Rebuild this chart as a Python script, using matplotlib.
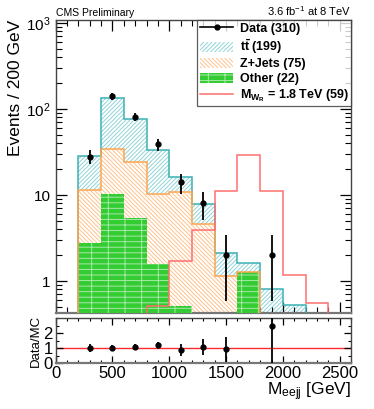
import numpy as np
import matplotlib
matplotlib.use("Agg")
from matplotlib import pyplot as plt
from matplotlib.lines import Line2D
import matplotlib.patches as mpatches
from matplotlib.ticker import FixedLocator, MultipleLocator, FuncFormatter, LogLocator, NullFormatter

plt.rcParams['font.family'] = ['Liberation Sans', 'DejaVu Sans']
plt.rcParams['mathtext.fontset'] = 'custom'
plt.rcParams['mathtext.rm'] = 'Liberation Sans'
plt.rcParams['mathtext.it'] = 'Liberation Sans:italic'
plt.rcParams['mathtext.bf'] = 'Liberation Sans:bold'
plt.rcParams['hatch.linewidth'] = 0.7

# bins of M_eejj (GeV), 200 GeV wide
edges = np.arange(200, 2600, 200)

# background yields per bin
other = [2.8, 10.2, 5.4, 1.6, 0.52, 0, 0, 1.28, 0, 0, 0]
zjets = [8.7, 24.3, 18.6, 8.6, 10.3, 4.6, 1.15, 0, 0, 0, 0]
ttbar = [17.0, 100.0, 52.0, 23.3, 5.5, 3.2, 0.95, 0.33, 0.8, 0.53, 0]
signal = [0, 0, 0, 0.52, 1.69, 3.9, 11.1, 28.8, 11.2, 1.17, 0.56]
data = [28, 140, 81, 39, 14, 8, 2, 0, 2, 0, 0]

# data/MC ratio points
ratio_x = [300, 500, 700, 900, 1100, 1300, 1500, 1900]
ratio = [1.0, 1.04, 1.08, 1.18, 0.87, 1.08, 0.93, 2.49]
ratio_err = [0.28, 0.14, 0.17, 0.22, 0.4, 0.55, 0.85, 2.6]

def pos(v):
    v = np.asarray(v, dtype=float)
    return np.where(v > 0, v, 1e-3)

s1 = np.array(other)
s2 = s1 + np.array(zjets)
s3 = s2 + np.array(ttbar)

fig = plt.figure(figsize=(3.74, 4.09), dpi=100)
ax = fig.add_axes([0.1487, 0.2335, 0.79, 0.7175])
rx = fig.add_axes([0.1487, 0.1125, 0.79, 0.1088])

teal = '#3cb0b4'
teal_h = '#8fd3d8'
orng = '#ffa54f'
orng_h = '#ffc28c'
green = '#33cc33'
sigc = '#ff6f6f'
h_tt = '////////'
h_zj = '\\' * 8
h_ot = '---|'

ax.stairs(pos(s3), edges, baseline=1e-3, fill=True, facecolor='white',
          edgecolor=teal_h, hatch=h_tt, linewidth=0, zorder=1)
ax.stairs(pos(s2), edges, baseline=1e-3, fill=True, facecolor='white',
          edgecolor=orng_h, hatch=h_zj, linewidth=0, zorder=2)
ax.stairs(pos(s1), edges, baseline=1e-3, fill=True, facecolor=green,
          edgecolor='#a8e8a8', hatch=h_ot, linewidth=0, zorder=3)
ax.stairs(pos(s3), edges, baseline=1e-3, color=teal, lw=1.1, zorder=4)
ax.stairs(pos(s2), edges, baseline=1e-3, color=orng, lw=1.1, zorder=5)
ax.stairs(pos(signal), edges, baseline=1e-3, color=sigc, lw=1.1, zorder=6)

centers = (edges[:-1] + edges[1:]) / 2
d = np.array(data, dtype=float)
m = d > 0
ax.errorbar(centers[m], d[m], yerr=np.sqrt(d[m]), fmt='o', color='k',
            ms=3.5, lw=1.3, capsize=0, zorder=10)

ax.set_yscale('log')
ax.set_ylim(0.42, 1080)
ax.set_xlim(0, 2600)
ax.yaxis.set_major_locator(FixedLocator([1, 10, 100, 1000]))
ax.yaxis.set_minor_locator(LogLocator(base=10, subs=np.arange(2, 10)))
ax.yaxis.set_minor_formatter(NullFormatter())
labs = {1: '1', 10: '10', 100: '$10^{2}$', 1000: '$10^{3}$'}
ax.yaxis.set_major_formatter(FuncFormatter(lambda v, p: labs.get(int(round(v)), '')))
ax.xaxis.set_major_locator(MultipleLocator(500))
ax.xaxis.set_minor_locator(MultipleLocator(100))
ax.tick_params(axis='x', labelbottom=False)

for a in (ax, rx):
    a.tick_params(which='both', direction='in', top=True, right=True, labelsize=11)
    a.tick_params(which='major', length=8, width=0.9)
    a.tick_params(which='minor', length=4, width=0.8)
    for s in a.spines.values():
        s.set_color('#444444')
        s.set_linewidth(1.0)
    a.spines['bottom'].set_color('#777777')
    a.spines['bottom'].set_linewidth(1.6)

ax.set_ylabel('Events / 200 GeV', fontsize=12.5, loc='top', labelpad=2)

ax.text(0.0, 1.008, 'CMS Preliminary', transform=ax.transAxes, fontsize=7.5,
        ha='left', va='bottom')
ax.text(1.0, 1.008, '3.6 fb$^{-1}$ at 8 TeV', transform=ax.transAxes, fontsize=8,
        ha='right', va='bottom')

handles = [
    Line2D([], [], color='k', marker='o', ms=3.5, lw=1.2),
    mpatches.Patch(facecolor='white', edgecolor=teal_h, hatch=h_tt, linewidth=0),
    mpatches.Patch(facecolor='white', edgecolor=orng_h, hatch=h_zj, linewidth=0),
    mpatches.Patch(facecolor=green, edgecolor='#a8e8a8', hatch=h_ot, linewidth=0),
    Line2D([], [], color=sigc, lw=1.1),
]
labels = ['Data (310)', r'$\mathbf{t\bar{t}}$ (199)', 'Z+Jets (75)', 'Other (22)',
          r'$\mathbf{M_{W_R}}$ = 1.8 TeV (59)']
leg = ax.legend(handles, labels, loc='upper right', bbox_to_anchor=(1.0, 1.0),
                prop={'weight': 'bold', 'size': 9}, frameon=True, fancybox=False,
                borderaxespad=0, handlelength=2.7, handleheight=0.85,
                labelspacing=0.18, borderpad=0.2, handletextpad=0.5)
leg.get_frame().set_edgecolor('#333333')
leg.get_frame().set_linewidth(0.9)
leg.set_zorder(20)

# ratio panel
rx.axhline(1.0, color='#ff2a2a', lw=1.0, zorder=1)
rx.errorbar(ratio_x, ratio, yerr=ratio_err, fmt='o', color='k', ms=3.5, lw=1.3,
            capsize=0, zorder=5)
rx.set_xlim(0, 2600)
rx.set_ylim(0, 3)
rx.yaxis.set_major_locator(FixedLocator([0, 1, 2]))
rx.yaxis.set_minor_locator(MultipleLocator(0.5))
rx.xaxis.set_major_locator(MultipleLocator(500))
rx.xaxis.set_minor_locator(MultipleLocator(100))
rx.tick_params(which='major', labelsize=12, pad=2)
rx.tick_params(which='major', length=5)
rx.tick_params(which='minor', length=2.5)
rx.set_ylabel('Data/MC', fontsize=9.5, labelpad=1)
rx.set_xlabel(r'M$_{\mathrm{eejj}}$ [GeV]', fontsize=12.5, loc='right', labelpad=0)

fig.savefig('out.png', dpi=100)
